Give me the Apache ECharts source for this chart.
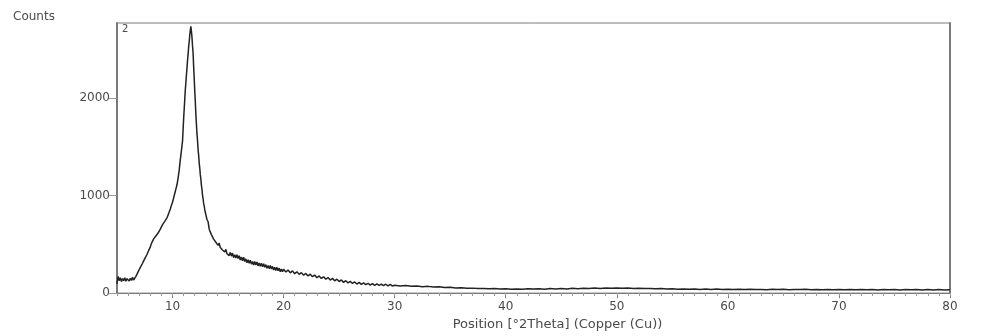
<!DOCTYPE html>
<html>
<head>
<meta charset="utf-8">
<title>XRD pattern</title>
<script src="https://cdn.jsdelivr.net/npm/echarts@6/dist/echarts.min.js"></script>
<style>
  html, body { margin: 0; padding: 0; background: #ffffff; }
  #chart { width: 989px; height: 336px; }
</style>
</head>
<body>
<div id="chart"></div>
<script>
// Scan segments: start angle (°2Theta) and step size of each block of counts
const segStart = [5.0, 11.0, 13.0, 20.0, 30.0];
const segStep = [0.1, 0.05, 0.1, 0.2, 0.5];

// 5.0 – 10.9 °2Theta
const countsA = [
  95, 172, 128, 158, 118, 150, 127, 158, 122, 148,
  156, 124, 152, 130, 162, 134, 154, 172, 194, 218,
  242, 264, 282, 306, 330, 354, 374, 396, 424, 449,
  474, 509, 534, 556, 572, 586, 602, 616, 632, 656,
  676, 702, 716, 736, 754, 772, 802, 832, 862, 900,
  932, 976, 1021, 1066, 1111, 1180, 1261, 1369, 1461, 1559
];
// 11.00 – 12.95 °2Theta (main reflection)
const countsB = [
  1790, 1885, 1985, 2085, 2155, 2235, 2305, 2385, 2445, 2525,
  2575, 2645, 2695, 2735, 2685, 2625, 2535, 2465, 2325, 2205,
  2075, 1965, 1835, 1735, 1635, 1565, 1475, 1415, 1335, 1285,
  1215, 1170, 1105, 1065, 1005, 970, 920, 895, 855, 835
];
// 13.0 – 19.9 °2Theta
const countsC = [
  805, 755, 732, 655, 648, 600, 602, 553, 558, 521,
  534, 489, 513, 468, 486, 442, 460, 422, 448, 404,
  424, 385, 418, 379, 410, 365, 393, 360, 394, 354,
  383, 340, 369, 332, 367, 324, 351, 310, 343, 307,
  338, 297, 324, 289, 324, 289, 320, 279, 308, 275,
  306, 269, 302, 265, 292, 255, 284, 251, 282, 247,
  274, 237, 266, 233, 264, 229, 256, 219, 248, 219
];
// 20.0 – 29.8 °2Theta
const countsD = [
  245, 216, 236, 208, 228, 199, 218, 192, 210, 183,
  202, 176, 194, 168, 185, 157, 176, 150, 167, 142,
  159, 134, 151, 126, 143, 118, 135, 110, 127, 104,
  121, 99, 114, 93, 110, 89, 105, 86, 101, 82,
  97, 80, 95, 78, 93, 76, 91, 74, 89, 72
];
// 30.0 – 80.0 °2Theta
const countsE = [
  80, 74, 77, 70, 73, 66, 69, 62, 64, 58,
  59, 53, 55, 49, 51, 46, 48, 44, 46, 42,
  44, 40, 43, 39, 44, 41, 45, 40, 46, 42,
  47, 43, 49, 45, 50, 47, 52, 48, 53, 49,
  53, 49, 52, 47, 50, 46, 48, 44, 46, 42,
  44, 40, 43, 39, 42, 38, 41, 37, 41, 37,
  40, 36, 39, 37, 40, 36, 38, 35, 39, 36,
  39, 35, 38, 36, 39, 35, 38, 34, 38, 35,
  38, 34, 37, 35, 38, 34, 37, 33, 37, 34,
  37, 33, 36, 34, 37, 33, 36, 32, 36, 33, 35
];

const xTickLabels = [10, 20, 30, 40, 50, 60, 70, 80];
const yTickLabels = [0, 1000, 2000];

// Assemble [angle, counts] pairs from the scan segments
const segCounts = [countsA, countsB, countsC, countsD, countsE];
const scan = [];
segCounts.forEach(function (list, s) {
  list.forEach(function (c, i) {
    scan.push([+(segStart[s] + i * segStep[s]).toFixed(2), c]);
  });
});

// Minor tick positions every 1 °2Theta
const minorTicks = [];
for (let v = 5; v <= 80; v++) minorTicks.push(v);

const axisGray = '#7a7a7a';
const textGray = '#4a4a4a';
const font = 'DejaVu Sans, sans-serif';
const plain = function (v) { return String(v); };

const chart = echarts.init(document.getElementById('chart'), null, { renderer: 'canvas' });
chart.setOption({
  animation: false,
  backgroundColor: '#ffffff',
  grid: {
    left: 117, right: 39, top: 23, bottom: 36,
    show: true, borderColor: axisGray, borderWidth: 1
  },
  xAxis: [
    {
      type: 'value', min: 5, max: 80,
      name: 'Position [°2Theta] (Copper (Cu))',
      nameLocation: 'middle', nameGap: 17,
      nameTextStyle: { color: textGray, fontFamily: font, fontSize: 13, padding: [0, 0, 0, 48] },
      axisLine: { show: true, onZero: false, lineStyle: { color: axisGray, width: 1 } },
      axisTick: { show: true, length: 5, customValues: xTickLabels, lineStyle: { color: axisGray } },
      axisLabel: { customValues: xTickLabels, formatter: plain, margin: 8, color: textGray, fontFamily: font, fontSize: 12 },
      splitLine: { show: false }
    },
    {
      type: 'value', min: 5, max: 80, position: 'bottom',
      axisLine: { show: false },
      axisTick: { show: true, length: 3, customValues: minorTicks, lineStyle: { color: '#9a9a9a' } },
      axisLabel: { show: false },
      splitLine: { show: false }
    }
  ],
  yAxis: [
    {
      type: 'value', min: 0, max: 2770,
      axisLine: { show: true, onZero: false, lineStyle: { color: axisGray, width: 2 } },
      axisTick: { show: true, length: 8, customValues: yTickLabels, lineStyle: { color: '#9a9a9a' } },
      axisLabel: {
        customValues: yTickLabels, formatter: plain, margin: 7,
        verticalAlign: 'middle', verticalAlignMinLabel: 'middle', verticalAlignMaxLabel: 'middle',
        color: textGray, fontFamily: font, fontSize: 12
      },
      splitLine: { show: false }
    },
    {
      type: 'value', min: 0, max: 2770, position: 'right',
      axisLine: { show: true, onZero: false, lineStyle: { color: axisGray, width: 2 } },
      axisTick: { show: false },
      axisLabel: { show: false },
      splitLine: { show: false }
    }
  ],
  graphic: [
    {
      type: 'text', left: 13, top: 11,
      style: { text: 'Counts', fill: textGray, font: '12px ' + font }
    },
    {
      type: 'text', left: 122, top: 24,
      style: { text: '2', fill: textGray, font: '10px ' + font }
    }
  ],
  series: [
    {
      type: 'line',
      xAxisIndex: 0, yAxisIndex: 0,
      data: scan,
      showSymbol: false,
      symbol: 'none',
      lineStyle: { color: '#222222', width: 1.5 },
      z: 3
    }
  ]
});
</script>
</body>
</html>
